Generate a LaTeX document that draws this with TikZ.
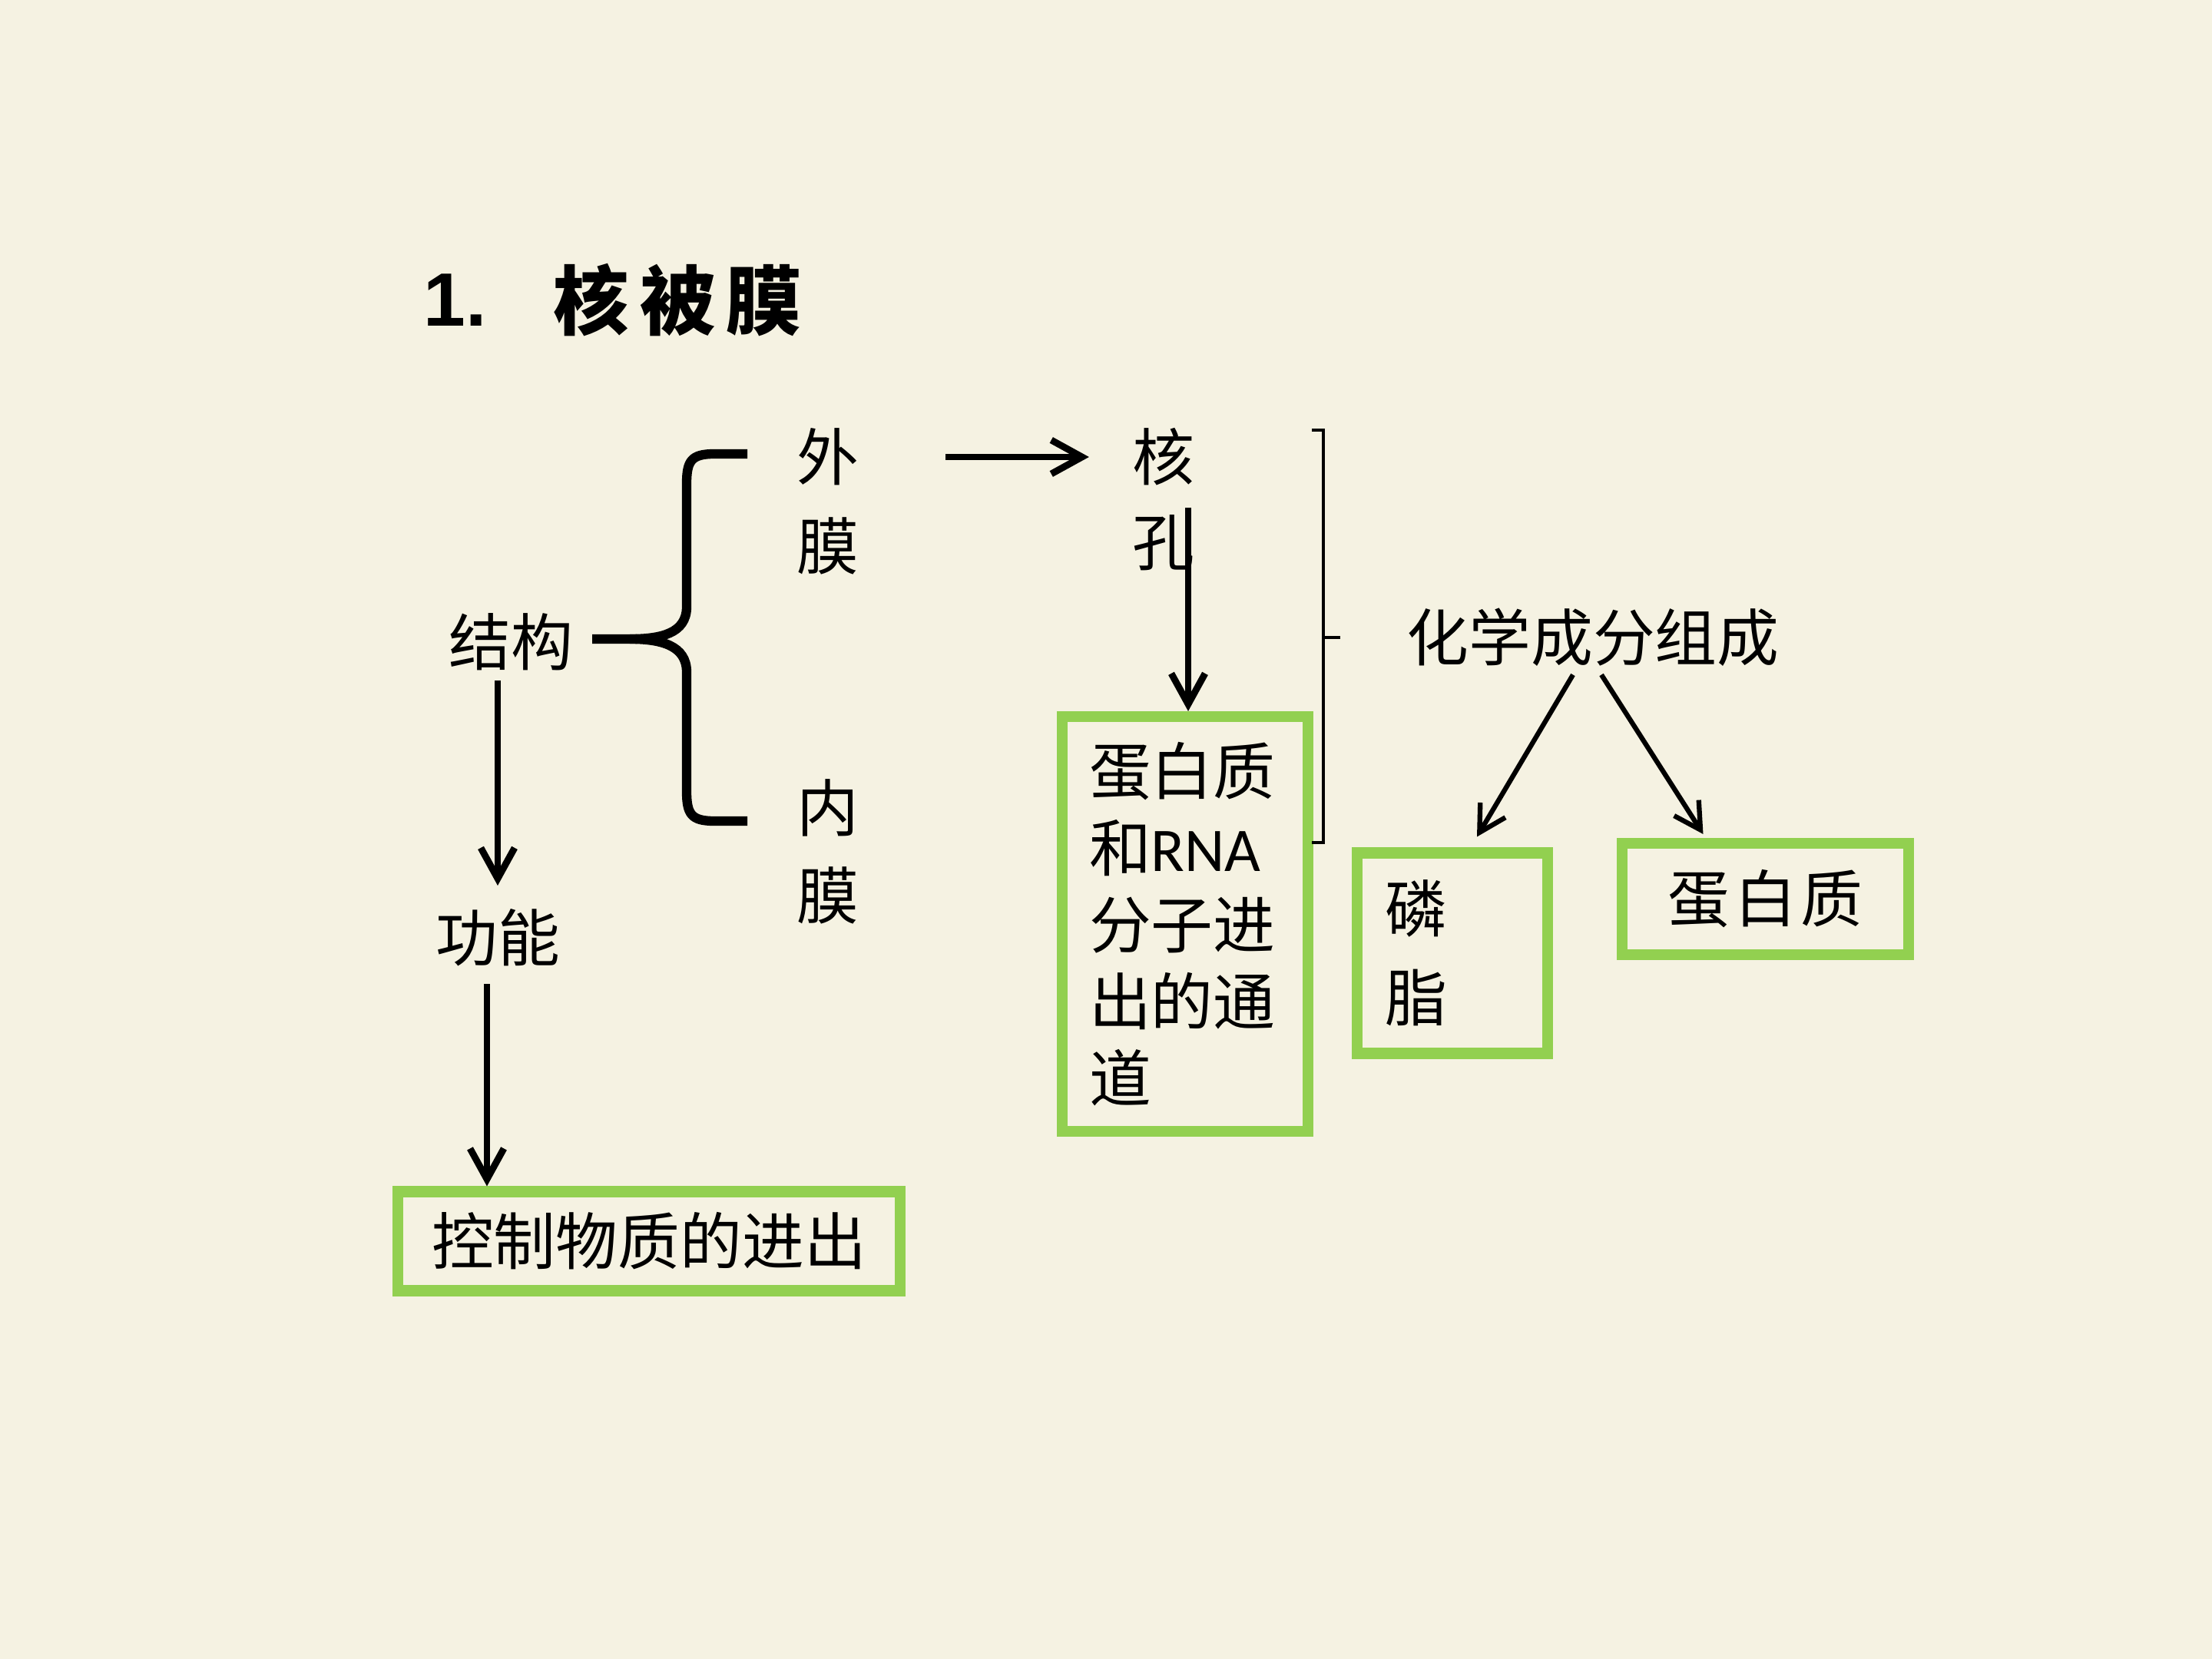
\documentclass[tikz,border=0pt]{standalone}
\usepackage{fontspec}
\setmainfont{Noto Sans CJK SC}
\newfontfamily\latinfont{Carlito}
\newfontfamily\numfont{Liberation Sans}
\usetikzlibrary{arrows.meta}
\definecolor{paper}{RGB}{245,242,226}
\definecolor{boxgreen}{RGB}{146,208,80}

\begin{document}
\begin{tikzpicture}[
    txt/.style={inner sep=0pt, font=\fontsize{23}{28.45}\selectfont},
    gbox/.style={txt, draw=boxgreen, line width=4pt},
    arr/.style={line width=2.5pt, -{Straight Barb[length=4mm, width=4.4mm]}},
    thinarr/.style={line width=1.8pt, -{Straight Barb[length=3.4mm, width=3.8mm]}},
  ]
    % Background
    \fill[paper] (0,0) rectangle (28.8,-21.6);
    \useasboundingbox (0,0) rectangle (28.8,-21.6);

    % Title
    \node[anchor=west, inner sep=0pt, font=\numfont\bfseries\fontsize{28}{34}\selectfont] (num) at (5.51,-3.91) {1.};
    \node[anchor=west, inner sep=0pt, font=\bfseries\fontsize{28}{34}\selectfont] (title) at (7.20,-3.91)
        {核\hspace{0.14cm}被\hspace{0.14cm}膜};

    % Draw nodes
    \node[txt] (jiegou) at (6.65,-8.36) {结构};
    \node[txt] (gongneng) at (6.48,-12.21) {功能};
    \node[gbox, minimum width=6.54cm, minimum height=1.29cm] (kongzhi) at (8.45,-16.16) {控制物质的进出};

    \node[txt] (wai) at (10.78,-5.95) {外};
    \node[txt] (waimo) at (10.78,-7.11) {膜};
    \node[txt] (nei) at (10.78,-10.52) {内};
    \node[txt] (neimo) at (10.78,-11.66) {膜};

    \node[txt] (he) at (15.15,-5.95) {核};
    \node[txt] (kong) at (15.15,-7.07) {孔};
    \node[gbox, text width=2.5cm, inner xsep=0.35cm, minimum height=5.4cm, align=left] (pore) at (15.43,-12.03)
        {蛋白质\\和{\latinfont RNA}\\分子进\\出的通\\道};

    \node[txt] (chem) at (20.74,-8.30) {化学成分组成};
    \node[gbox, text width=1.76cm, inner xsep=0.36cm, minimum height=2.61cm, align=left,
          font=\fontsize{23}{33}\selectfont] (linzhi) at (18.91,-12.41) {磷\\脂};
    \node[gbox, minimum width=3.73cm, minimum height=1.45cm] (protein) at (22.985,-11.705)
        {蛋\hspace{0.06cm}白\hspace{0.06cm}质};

    % Brace and bracket
    \draw[line width=3.5pt] (9.73,-5.91) -- (9.3,-5.91) .. controls (9.0,-5.91) and (8.94,-6.0) .. (8.94,-6.3)
        -- (8.94,-7.9) .. controls (8.94,-8.25) and (8.6,-8.32) .. (8.2,-8.32) -- (7.71,-8.32);
    \draw[line width=3.5pt] (8.2,-8.32) .. controls (8.6,-8.32) and (8.94,-8.4) .. (8.94,-8.75)
        -- (8.94,-10.3) .. controls (8.94,-10.6) and (9.0,-10.69) .. (9.3,-10.69) -- (9.73,-10.69);
    \draw[line width=1pt] (17.08,-5.60) -- (17.23,-5.60) -- (17.23,-10.97) -- (17.08,-10.97)
        (17.23,-8.30) -- (17.45,-8.30);

    % Draw connections
    \draw[arr, shorten <=1.12cm, shorten >=0.56cm] (wai) -- (he);
    \coordinate (kongtop) at (15.47,-6.61);
    \draw[arr] (kongtop) -- (kongtop |- pore.north);
    \draw[arr, shorten <=0.12cm, shorten >=0.3cm] (gongneng |- jiegou.south) -- (gongneng.north);
    \draw[arr, shorten <=0.22cm] ([xshift=-1.4mm]gongneng.south) -- ([xshift=-1.4mm]gongneng.south |- kongzhi.north);
    \draw[thinarr] ([xshift=-2.6mm,yshift=-1mm]chem.south) -- ([xshift=3.2mm,yshift=1.4mm]linzhi.north);
    \draw[thinarr] ([xshift=1.1mm,yshift=-1mm]chem.south) -- ([xshift=-8.1mm,yshift=0.5mm]protein.north);
\end{tikzpicture}
\end{document}
